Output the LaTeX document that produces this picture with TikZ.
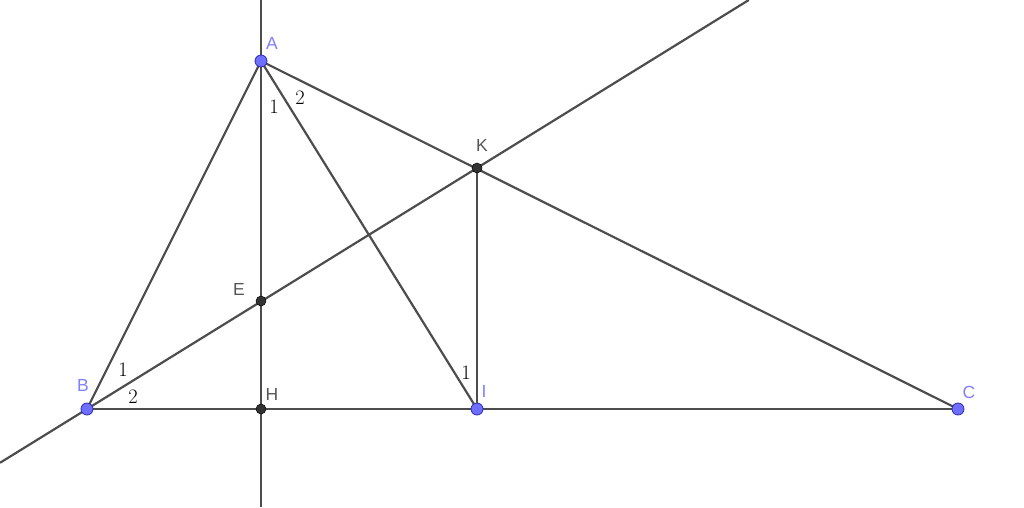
\documentclass[tikz,border=0pt]{standalone}
\usepackage{fontspec}
\newfontfamily\lblfont{Liberation Sans}
\definecolor{lineg}{HTML}{4D4D4D}
\definecolor{freept}{HTML}{6F6FFF}
\definecolor{freeedge}{HTML}{2A2AB0}
\definecolor{freelbl}{HTML}{7F7FFF}
\definecolor{deppt}{HTML}{333333}
\definecolor{deplbl}{HTML}{555555}
\tikzset{
  seg/.style={draw=lineg, line width=2.2pt},
  freepoint/.style={circle, fill=freept, draw=freeedge, line width=0.8pt, inner sep=0pt, minimum size=12pt},
  deppoint/.style={circle, fill=deppt, draw=black, line width=0.5pt, inner sep=0pt, minimum size=10pt},
  flabel/.style={text=freelbl, font=\lblfont\fontsize{17.5}{18}\selectfont, inner sep=0pt},
  dlabel/.style={text=deplbl, font=\lblfont\fontsize{17.5}{18}\selectfont, inner sep=0pt},
  anglbl/.style={text=black, font=\fontsize{20.5}{21}\selectfont, inner sep=0pt}
}
\begin{document}
\begin{tikzpicture}[x=1pt,y=-1pt]
\useasboundingbox (0,0) rectangle (1024,507);
% coordinates
\coordinate (pA) at (261,61);
\coordinate (pB) at (87,409);
\coordinate (pC) at (958,409);
\coordinate (pH) at (261,409);
\coordinate (pI) at (477,409);
\coordinate (pK) at (477,168);
\coordinate (pE) at (261,301);
\coordinate (vtop) at (261,0);
\coordinate (vbot) at (261,507);
\coordinate (lstart) at (0,462.8);
\coordinate (lend) at (748.8,0);
% lines
\draw[seg] (vtop) -- (vbot);
\draw[seg] (lstart) -- (lend);
\draw[seg] (pA) -- (pB);
\draw[seg] (pA) -- (pC);
\draw[seg] (pA) -- (pI);
\draw[seg] (pB) -- (pC);
\draw[seg] (pK) -- (pI);
% points
\node[deppoint] (E) at (pE) {};
\node[deppoint] (H) at (pH) {};
\node[deppoint] (K) at (pK) {};
\node[freepoint] (A) at (pA) {};
\node[freepoint] (B) at (pB) {};
\node[freepoint] (C) at (pC) {};
\node[freepoint] (I) at (pI) {};
% labels
\node[flabel] (lA) at (272,43) {A};
\node[flabel] (lB) at (83,385) {B};
\node[flabel] (lC) at (969,392) {C};
\node[flabel] (lI) at (484,391) {I};
\node[dlabel] (lE) at (239,289) {E};
\node[dlabel] (lH) at (272,394) {H};
\node[dlabel] (lK) at (482,145) {K};
% angle labels
\node[anglbl] (a1) at (274,107) {1};
\node[anglbl] (a2) at (300,98) {2};
\node[anglbl] (b1) at (123,370) {1};
\node[anglbl] (b2) at (133,397) {2};
\node[anglbl] (i1) at (466,373) {1};
\end{tikzpicture}
\end{document}
